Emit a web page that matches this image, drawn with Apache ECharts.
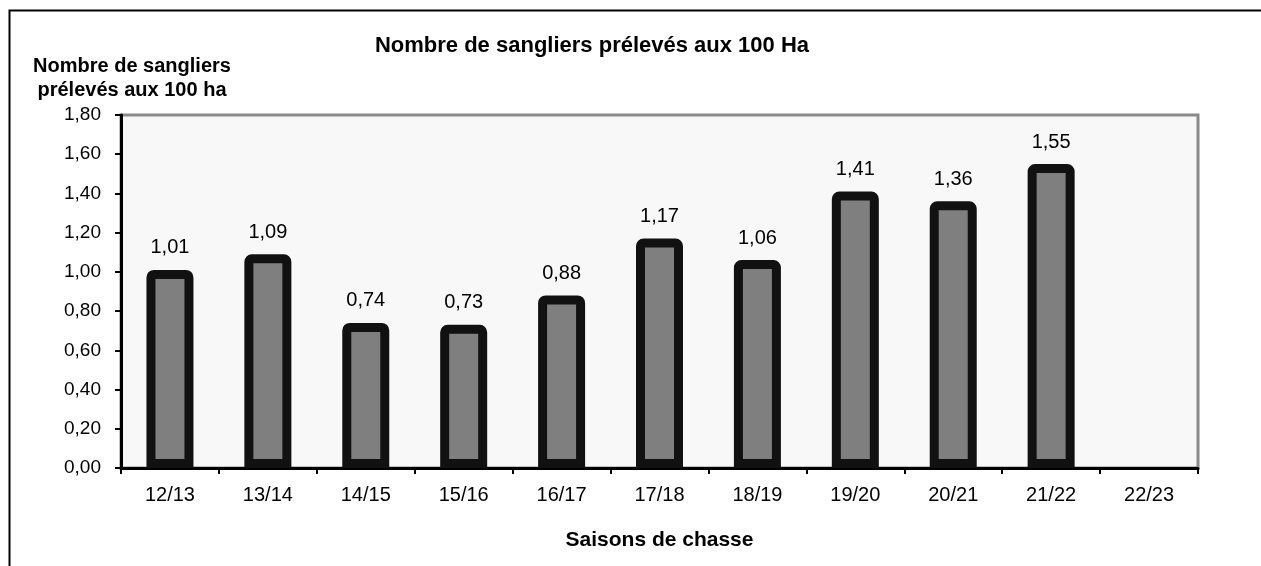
<!DOCTYPE html>
<html>
<head>
<meta charset="utf-8">
<title>Nombre de sangliers prélevés aux 100 Ha</title>
<script src="https://cdn.jsdelivr.net/npm/echarts@6/dist/echarts.min.js"></script>
<style>
  html, body { margin: 0; padding: 0; background: #fff; }
  #chart { width: 1261px; height: 566px; }
</style>
</head>
<body>
<div id="chart"></div>
<script>
'use strict';
var saisons = ['12/13', '13/14', '14/15', '15/16', '16/17', '17/18', '18/19', '19/20', '20/21', '21/22', '22/23'];
var prelevements = [1.01, 1.09, 0.74, 0.73, 0.88, 1.17, 1.06, 1.41, 1.36, 1.55, null];

var font = '"Liberation Sans", Arial, sans-serif';
var virgule = function (v) {
    return Number(v).toFixed(2).replace('.', ',');
};

var myChart = echarts.init(document.getElementById('chart'));
myChart.setOption({
    animation: false,
    backgroundColor: '#fff',
    textStyle: {fontFamily: font},
    title: [{
        text: 'Nombre de sangliers prélevés aux 100 Ha',
        left: 587, top: 30,
        textAlign: 'center',
        textStyle: {fontFamily: font, fontSize: 22, fontWeight: 'bold', color: '#000'}
    }, {
        text: 'Nombre de sangliers\nprélevés aux 100 ha',
        left: 127, top: 49,
        textAlign: 'center',
        textStyle: {fontFamily: font, fontSize: 20, fontWeight: 'bold', color: '#000', lineHeight: 24}
    }],
    graphic: [{
        type: 'rect',
        left: 7, top: 8,
        shape: {width: 1300, height: 620},
        style: {fill: 'none', stroke: '#000', lineWidth: 2},
        silent: true
    }],
    grid: {
        left: 121, right: 63, top: 115, bottom: 98,
        show: true,
        backgroundColor: '#f8f8f8',
        borderColor: '#8a8a8a',
        borderWidth: 3
    },
    xAxis: {
        type: 'category',
        data: saisons,
        name: 'Saisons de chasse',
        nameLocation: 'middle',
        nameGap: 62,
        nameTextStyle: {fontFamily: font, fontSize: 21, fontWeight: 'bold', color: '#000'},
        axisLine: {lineStyle: {color: '#000', width: 3}},
        axisTick: {show: true, length: 6, lineStyle: {color: '#000', width: 2}},
        axisLabel: {fontFamily: font, fontSize: 20, color: '#000', margin: 17},
        splitLine: {show: false}
    },
    yAxis: {
        type: 'value',
        min: 0, max: 1.8, interval: 0.2,
        axisLine: {show: true, lineStyle: {color: '#000', width: 3}},
        axisTick: {show: true, length: 6, lineStyle: {color: '#000', width: 2}},
        axisLabel: {fontFamily: font, fontSize: 19, color: '#000', margin: 20, formatter: virgule},
        splitLine: {show: false}
    },
    series: [{
        type: 'bar',
        data: prelevements,
        barWidth: 47,
        itemStyle: {color: '#7f7f7f', borderColor: '#111', borderWidth: 9, borderRadius: [3, 3, 0, 0]},
        label: {
            show: true, position: 'top', distance: 12,
            fontFamily: font, fontSize: 20, color: '#000',
            formatter: function (p) { return virgule(p.value); }
        }
    }]
});
</script>
</body>
</html>
